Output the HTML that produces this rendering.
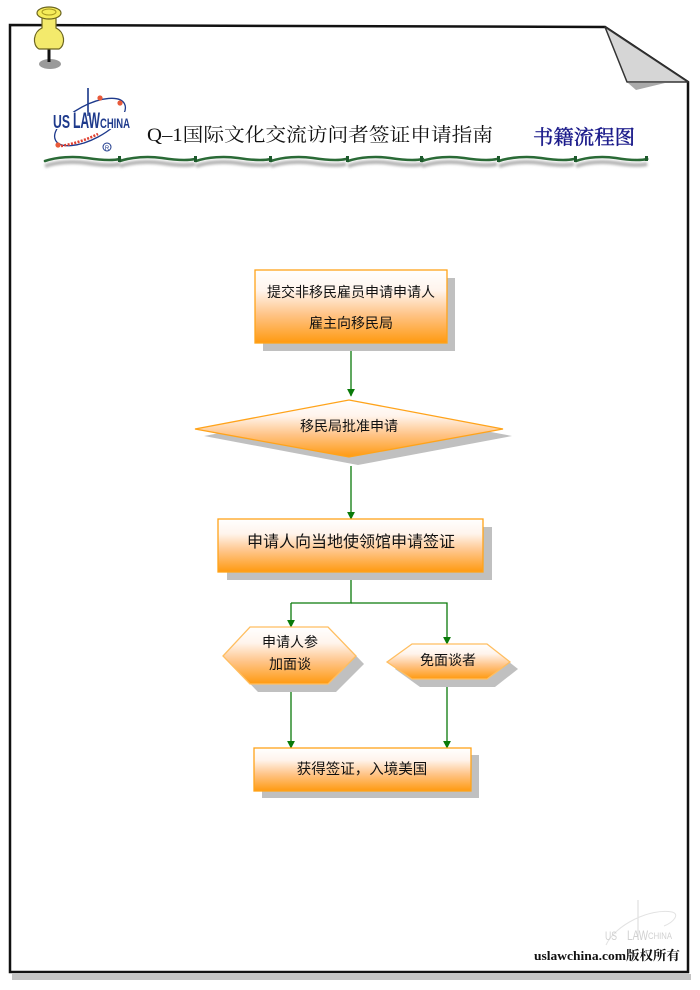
<!DOCTYPE html>
<html><head><meta charset="utf-8"><style>
html,body{margin:0;padding:0;background:#fff;}
svg{display:block;}
.cn{font-family:"Liberation Sans","Noto Sans CJK SC",sans-serif;fill:#111;}
.sf{font-family:"Liberation Serif","Noto Serif CJK SC",serif;}
</style></head><body>
<svg width="700" height="990" viewBox="0 0 700 990" xmlns="http://www.w3.org/2000/svg">
<defs>
<linearGradient id="og" x1="0" y1="0" x2="0" y2="1">
<stop offset="0" stop-color="#ffffff"/>
<stop offset="0.28" stop-color="#fff4ec"/>
<stop offset="0.6" stop-color="#ffc58a"/>
<stop offset="1" stop-color="#ff9a10"/>
</linearGradient>
<marker id="ar" viewBox="0 0 10 10" refX="9" refY="5" markerWidth="8" markerHeight="8" orient="auto" markerUnits="userSpaceOnUse">
<path d="M0,0 L10,5 L0,10 Z" fill="#0a7a0a"/>
</marker>
<filter id="bl" x="-10%" y="-200%" width="120%" height="500%"><feGaussianBlur stdDeviation="1.3"/></filter>
<path id="seg" d="M0,161 C12,157 28,156 42,158 C55,160 66,161 75,159"/>
</defs>

<!-- page shadow -->
<rect x="12" y="974" width="679" height="6" fill="#c4c4c4"/>
<!-- page -->
<path d="M10,25 L605,27 L688,82 L688,972 L10,972 Z" fill="#fff" stroke="#111" stroke-width="2.5"/>
<!-- fold shadow -->
<path d="M628,83 L665,83 L636,90 Z" fill="#aaa"/>
<!-- fold -->
<path d="M605,27 L627,82 L688,82 Z" fill="#d6d6d6" stroke="#333" stroke-width="1.5" stroke-linejoin="round"/>

<!-- pin -->
<ellipse cx="50" cy="64" rx="11" ry="5" fill="#9a9a9a"/>
<line x1="49" y1="48" x2="49" y2="62" stroke="#111" stroke-width="3"/>
<path d="M42,17 L42,28 C33,32 32,45 39,49 L59,49 C66,45 65,32 56,28 L56,17 Z" fill="#f3ea6c" stroke="#6b6420" stroke-width="1.2"/>
<ellipse cx="49" cy="13" rx="12" ry="6" fill="#f6ec5a" stroke="#6b6420" stroke-width="1.2"/>
<ellipse cx="49" cy="12" rx="7" ry="3" fill="none" stroke="#a89a20" stroke-width="1"/>

<!-- logo -->
<g>
<ellipse cx="90" cy="122" rx="39" ry="17" transform="rotate(-28 90 122)" fill="none" stroke="#1e3a8c" stroke-width="1.3"/>
<path d="M61,146 C73,144 86,140 98,134" fill="none" stroke="#e04030" stroke-width="2.6" stroke-dasharray="2 1.4"/>
<circle cx="58" cy="145" r="2.6" fill="#e85a3a"/>
<circle cx="100" cy="98" r="2.6" fill="#e85a3a"/>
<circle cx="120" cy="103" r="2.6" fill="#e85a3a"/>
<line x1="88" y1="88" x2="88" y2="128" stroke="#1e3a8c" stroke-width="1.4"/>
<rect x="52" y="112" width="80" height="17" fill="#fff"/>
<line x1="88" y1="88" x2="88" y2="116" stroke="#1e3a8c" stroke-width="1.4"/>
<text x="53" y="128" font-family="Liberation Sans" font-weight="bold" font-size="18" fill="#1e3a8c" textLength="17" lengthAdjust="spacingAndGlyphs">US</text>
<text x="73" y="128" font-family="Liberation Sans" font-weight="bold" font-size="22" fill="#1e3a8c" textLength="27" lengthAdjust="spacingAndGlyphs">LAW</text>
<text x="100" y="128" font-family="Liberation Sans" font-weight="bold" font-size="14" fill="#1e3a8c" textLength="30" lengthAdjust="spacingAndGlyphs">CHINA</text>
<circle cx="107" cy="147" r="4" fill="none" stroke="#1e3a8c" stroke-width="1"/>
<text x="107" y="150" text-anchor="middle" font-family="Liberation Sans" font-size="6" fill="#1e3a8c">R</text>
</g>

<!-- title -->
<text x="147" y="141" class="sf" font-size="19" fill="#111" textLength="346" lengthAdjust="spacingAndGlyphs">Q–1国际文化交流访问者签证申请指南</text>
<text x="533" y="144" class="sf" font-size="20" fill="#1a1a8a" stroke="#1a1a8a" stroke-width="0.4" textLength="102" lengthAdjust="spacingAndGlyphs">书籍流程图</text>

<!-- green divider -->
<g>
<g stroke="#b5b5b5" stroke-width="4" fill="none" filter="url(#bl)">
<use href="#seg" transform="translate(45,5)"/><use href="#seg" transform="translate(120,5)"/><use href="#seg" transform="translate(196,5)"/><use href="#seg" transform="translate(271,5)"/><use href="#seg" transform="translate(348,5)"/><use href="#seg" transform="translate(422,5)"/><use href="#seg" transform="translate(499,5)"/><use href="#seg" transform="translate(576,5) scale(0.95 1)"/>
</g>
<g stroke="#2a6a36" stroke-width="2.6" fill="none" stroke-linecap="round">
<use href="#seg" transform="translate(45,0)"/><use href="#seg" transform="translate(120,0)"/><use href="#seg" transform="translate(196,0)"/><use href="#seg" transform="translate(271,0)"/><use href="#seg" transform="translate(348,0)"/><use href="#seg" transform="translate(422,0)"/><use href="#seg" transform="translate(499,0)"/><use href="#seg" transform="translate(576,0) scale(0.95 1)"/>
</g>
<g fill="#1d5a2c">
<rect x="118" y="156" width="3" height="6"/><rect x="194" y="156" width="3" height="6"/><rect x="269" y="156" width="3" height="6"/><rect x="346" y="156" width="3" height="6"/><rect x="420" y="156" width="3" height="6"/><rect x="497" y="156" width="3" height="6"/><rect x="574" y="156" width="3" height="6"/><rect x="645" y="156" width="3" height="5"/>
</g>
</g>

<!-- connectors -->
<g stroke="#0a7a0a" stroke-width="1.3" fill="none">
<line x1="351" y1="343" x2="351" y2="396" marker-end="url(#ar)"/>
<line x1="351" y1="466" x2="351" y2="519" marker-end="url(#ar)"/>
<polyline points="351,580 351,603 291,603"/>
<line x1="291" y1="603" x2="291" y2="627" marker-end="url(#ar)"/>
<polyline points="351,603 447,603 447,644" marker-end="url(#ar)"/>
<line x1="291" y1="692" x2="291" y2="748" marker-end="url(#ar)"/>
<line x1="447" y1="687" x2="447" y2="748" marker-end="url(#ar)"/>
</g>

<!-- box1 -->
<rect x="263" y="278" width="192" height="73" fill="#c0c0c0"/>
<rect x="255" y="270" width="192" height="73" fill="url(#og)" stroke="#ffa31a" stroke-width="1.3"/>
<text x="351" y="297" text-anchor="middle" class="cn" font-size="14">提交非移民雇员申请申请人</text>
<text x="351" y="328" text-anchor="middle" class="cn" font-size="14">雇主向移民局</text>

<!-- diamond -->
<path d="M204,436 L358,407 L512,436 L358,465 Z" fill="#c0c0c0"/>
<path d="M195,429 L349,400 L503,429 L349,457 Z" fill="url(#og)" stroke="#ffa31a" stroke-width="1.3"/>
<text x="349" y="431" text-anchor="middle" class="cn" font-size="14">移民局批准申请</text>

<!-- box3 -->
<rect x="227" y="527" width="265" height="53" fill="#c0c0c0"/>
<rect x="218" y="519" width="265" height="53" fill="url(#og)" stroke="#ffa31a" stroke-width="1.3"/>
<text x="351" y="547" text-anchor="middle" class="cn" font-size="16">申请人向当地使领馆申请签证</text>

<!-- hex left -->
<path d="M231,664 L258,635 L336,635 L364,664 L336,692 L258,692 Z" fill="#c0c0c0"/>
<path d="M223,656 L250,627 L328,627 L356,656 L328,684 L250,684 Z" fill="url(#og)" stroke="#ffbe60" stroke-width="1.3"/>
<text x="290" y="647" text-anchor="middle" class="cn" font-size="14">申请人参</text>
<text x="290" y="669" text-anchor="middle" class="cn" font-size="14">加面谈</text>

<!-- hex right -->
<path d="M395,669 L420,651 L495,651 L518,669 L495,687 L420,687 Z" fill="#c0c0c0"/>
<path d="M387,662 L412,644 L487,644 L510,662 L487,679 L412,679 Z" fill="url(#og)" stroke="#ffbe60" stroke-width="1.3"/>
<text x="448" y="665" text-anchor="middle" class="cn" font-size="14">免面谈者</text>

<!-- box5 -->
<rect x="262" y="755" width="217" height="43" fill="#c0c0c0"/>
<rect x="254" y="748" width="217" height="43" fill="url(#og)" stroke="#ffa31a" stroke-width="1.3"/>
<text x="362" y="774" text-anchor="middle" class="cn" font-size="14.5">获得签证，入境美国</text>

<!-- watermark -->
<g opacity="0.55">
<line x1="638" y1="900" x2="638" y2="940" stroke="#bbb" stroke-width="1"/>
<path d="M606,945 C615,925 650,908 672,912 C680,914 674,922 664,926" fill="none" stroke="#ccc" stroke-width="1"/>
<text x="605" y="940" font-family="Liberation Sans" font-size="12" fill="#aaa" textLength="12" lengthAdjust="spacingAndGlyphs">US</text>
<text x="627" y="940" font-family="Liberation Sans" font-size="14" fill="#aaa" textLength="21" lengthAdjust="spacingAndGlyphs">LAW</text>
<text x="648" y="939" font-family="Liberation Sans" font-size="9" fill="#aaa" textLength="24" lengthAdjust="spacingAndGlyphs">CHINA</text>
</g>

<!-- footer -->
<text x="534" y="960" class="sf" font-size="13" font-weight="bold" fill="#111" textLength="146" lengthAdjust="spacingAndGlyphs">uslawchina.com版权所有</text>
</svg>
</body></html>
